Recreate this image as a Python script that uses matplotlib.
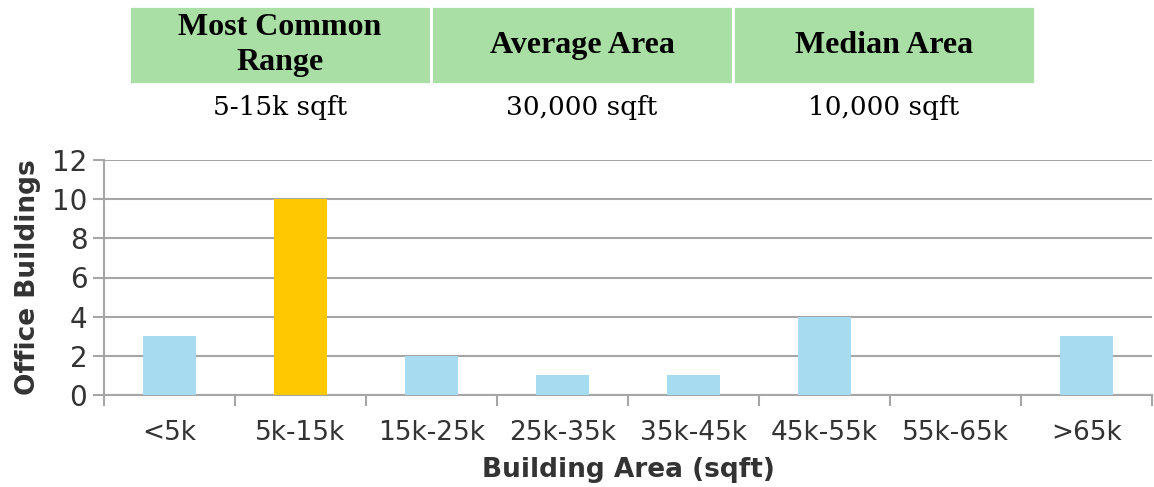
import numpy as np
import matplotlib.pyplot as plt

# data
categories = ['<5k', '5k-15k', '15k-25k', '25k-35k', '35k-45k', '45k-55k', '55k-65k', '>65k']
counts = [3, 10, 2, 1, 1, 4, 0, 3]
highlight = '5k-15k'

table_headers = ['Most Common\nRange', 'Average Area', 'Median Area']
table_values = ['5-15k sqft', '30,000 sqft', '10,000 sqft']

blue = '#a6dbf0'
gold = '#ffc800'
green = '#a9dfa4'
grid_gray = '#a6a6a6'

fig = plt.figure(figsize=(11.54, 4.87), dpi=100)

# summary table at the top
tax = fig.add_axes([129 / 1154, 1 - 130 / 487, 906 / 1154, 124 / 487])
tax.axis('off')
tbl = tax.table(cellText=[table_values], colLabels=table_headers,
                cellLoc='center', bbox=[0, 0, 1, 1])
tbl.auto_set_font_size(False)
for (r, c), cell in tbl.get_celld().items():
    cell.set_width(1 / 3)
    if r == 0:
        cell.set_height(0.63)
        cell.set_facecolor(green)
        cell.set_edgecolor('white')
        cell.set_linewidth(2)
        cell.get_text().set_fontsize(23)
        cell.get_text().set_fontweight('bold')
        cell.get_text().set_family('Liberation Serif')
        cell.get_text().set_linespacing(1.3)
    else:
        cell.set_height(0.37)
        cell.set_facecolor('white')
        cell.set_edgecolor('white')
        cell.get_text().set_fontsize(19)
        cell.get_text().set_family('DejaVu Serif')

# bar chart
ax = fig.add_axes([104 / 1154, 1 - 395 / 487, 1048 / 1154, 235 / 487])
x = np.arange(len(categories))
colors = [gold if c == highlight else blue for c in categories]
ax.bar(x, counts, width=0.4, color=colors, zorder=3)

ax.set_xlim(-0.5, len(categories) - 0.5)
ax.set_ylim(0, 12)
ax.set_yticks(range(0, 13, 2))
ax.set_xticks(x)
ax.set_xticklabels(categories)
ax.set_xticks(np.arange(-0.5, len(categories), 1), minor=True)
ax.tick_params(axis='x', which='major', length=0, pad=18, labelsize=19, colors='#333333')
ax.tick_params(axis='x', which='minor', length=8, width=1.5, color=grid_gray)
ax.tick_params(axis='y', length=8, width=1.5, color=grid_gray, labelsize=20, labelcolor='#333333', pad=4)

ax.grid(axis='y', color=grid_gray, linewidth=1.5, zorder=0)
for s in ['top', 'right']:
    ax.spines[s].set_visible(False)
for s in ['left', 'bottom']:
    ax.spines[s].set_color(grid_gray)
    ax.spines[s].set_linewidth(1.5)

ax.set_ylabel('Office Buildings', fontsize=19, fontweight='bold', color='#333333', labelpad=8)
ax.set_xlabel('Building Area (sqft)', fontsize=19, fontweight='bold', color='#333333', labelpad=8)

fig.savefig('out.png', dpi=100)
